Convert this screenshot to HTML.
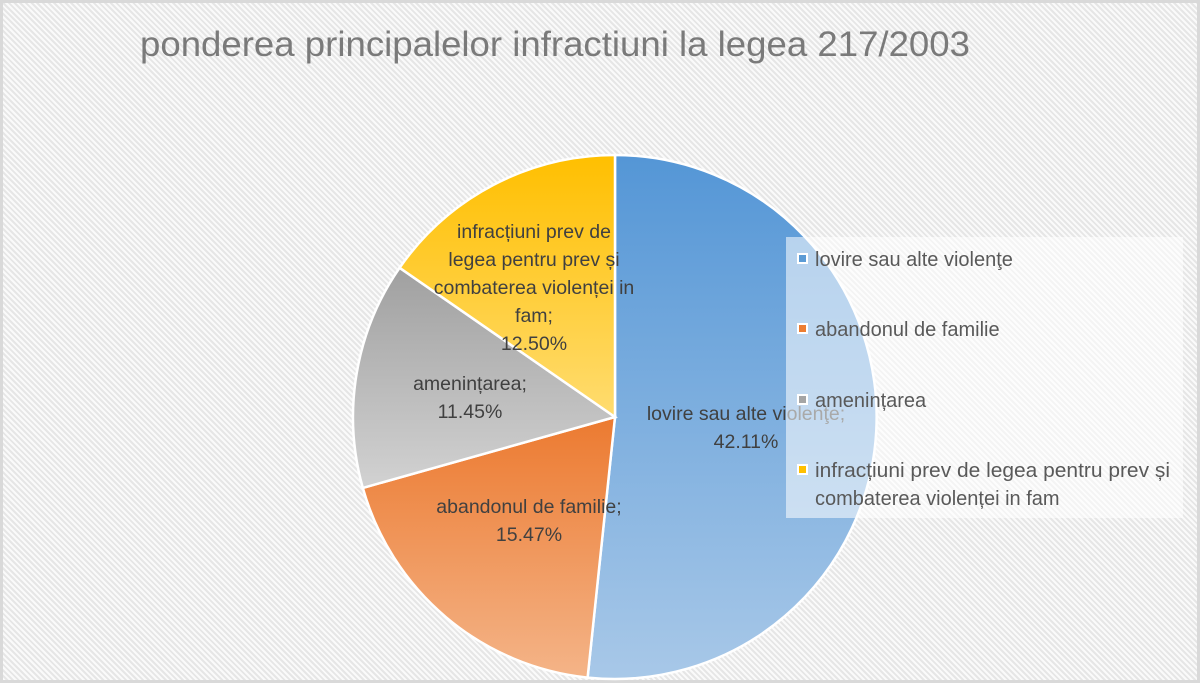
<!DOCTYPE html>
<html><head><meta charset="utf-8"><style>
html,body{margin:0;padding:0}
body{width:1200px;height:683px;overflow:hidden;font-family:"Liberation Sans",sans-serif}
.bg{position:absolute;left:0;top:0;width:1194px;height:677px;border:3px solid #d9d9d9;
background:repeating-linear-gradient(45deg,#fafafa 0 2px,#e6e6e6 2px 4px);}
</style></head><body>
<div class="bg"></div>
<svg width="1200" height="683" style="position:absolute;left:0;top:0" font-family="Liberation Sans, sans-serif">
<defs>
<linearGradient id="gb" x1="0" y1="0" x2="0" y2="1"><stop offset="0" stop-color="#5496d6"/><stop offset="1" stop-color="#a8c8e8"/></linearGradient>
<linearGradient id="go" x1="0" y1="0" x2="0" y2="1"><stop offset="0" stop-color="#ec7a30"/><stop offset="1" stop-color="#f4b488"/></linearGradient>
<linearGradient id="gg" x1="0" y1="0" x2="0" y2="1"><stop offset="0" stop-color="#a0a0a0"/><stop offset="1" stop-color="#d2d2d2"/></linearGradient>
<linearGradient id="gy" x1="0" y1="0" x2="0" y2="1"><stop offset="0" stop-color="#ffbf00"/><stop offset="1" stop-color="#ffdc70"/></linearGradient>
</defs>
<text x="140" y="56" font-size="35" fill="#7a7a7a" textLength="830" lengthAdjust="spacingAndGlyphs">ponderea principalelor infractiuni la legea 217/2003</text>
<g stroke="#fff" stroke-width="2.5">
<path d="M615,417 L615,155 A262,262 0 1 1 587.6,677.6 Z" fill="url(#gb)"/>
<path d="M615,417 L587.6,677.6 A262,262 0 0 1 362.8,487.9 Z" fill="url(#go)"/>
<path d="M615,417 L362.8,487.9 A262,262 0 0 1 399.6,267.8 Z" fill="url(#gg)"/>
<path d="M615,417 L399.6,267.8 A262,262 0 0 1 615,155 Z" fill="url(#gy)"/>
</g>
<g font-size="19.5" fill="#404040" text-anchor="middle">
<text x="534" y="238">infracțiuni prev de</text>
<text x="534" y="266">legea pentru prev și</text>
<text x="534" y="294">combaterea violenței in</text>
<text x="534" y="322">fam;</text>
<text x="534" y="350">12.50%</text>
<text x="470" y="390">amenințarea;</text>
<text x="470" y="418">11.45%</text>
<text x="529" y="513">abandonul de familie;</text>
<text x="529" y="541">15.47%</text>
<text x="746" y="420">lovire sau alte violenţe;</text>
<text x="746" y="448">42.11%</text>
</g>
<rect x="786" y="237" width="397" height="281" fill="#ffffff" fill-opacity="0.55"/>
<g font-size="20" fill="#595959">
<rect x="797" y="253" width="11" height="11" fill="#fff"/><rect x="799" y="255" width="7" height="7" fill="#5b9bd5"/>
<text x="815" y="266">lovire sau alte violenţe</text>
<rect x="797" y="323" width="11" height="11" fill="#fff"/><rect x="799" y="325" width="7" height="7" fill="#ed7d31"/>
<text x="815" y="336">abandonul de familie</text>
<rect x="797" y="394" width="11" height="11" fill="#fff"/><rect x="799" y="396" width="7" height="7" fill="#a5a5a5"/>
<text x="815" y="407">amenințarea</text>
<rect x="797" y="464" width="11" height="11" fill="#fff"/><rect x="799" y="466" width="7" height="7" fill="#ffc000"/>
<text x="815" y="477" textLength="355" lengthAdjust="spacingAndGlyphs">infracțiuni prev de legea pentru prev și</text>
<text x="815" y="505">combaterea violenței in fam</text>
</g>
</svg>
</body></html>
